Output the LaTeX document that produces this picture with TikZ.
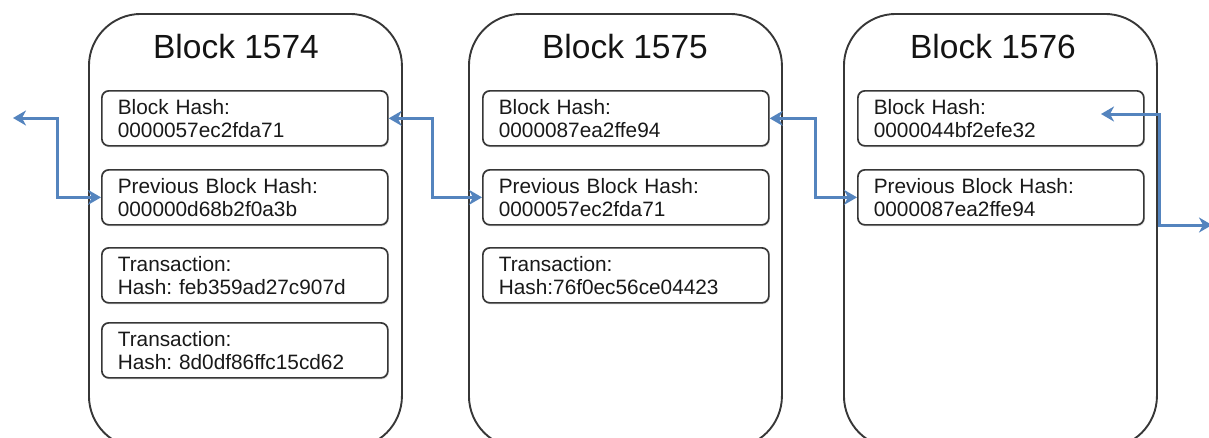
\documentclass[tikz,border=0pt]{standalone}
\usepackage{fontspec}
\setmainfont{Liberation Sans}
\usetikzlibrary{arrows.meta,shadows}
\definecolor{linkblue}{RGB}{84,132,190}
\definecolor{boxgray}{RGB}{55,55,55}
\tikzset{
  outerbox/.style={draw=boxgray, line width=1.9pt, rounded corners=52pt,
    minimum width=313pt, minimum height=434pt, anchor=north west, inner sep=0pt},
  title/.style={anchor=base, inner sep=0pt, font=\fontsize{33.5}{40}\selectfont, text=black!92},
  field/.style={draw=boxgray, line width=1.7pt, rounded corners=7pt, fill=white,
    anchor=north west, text width=254pt, inner xsep=16pt, inner ysep=0pt,
    minimum height=55pt, align=left, font=\fontsize{20.8}{23}\selectfont\frenchspacing, text=black!90,
    drop shadow={opacity=0.22, shadow xshift=1pt, shadow yshift=-1.5pt}},
  tip/.style={},
  link/.style={draw=linkblue, line width=3pt, {Stealth[length=13pt,width=15pt,inset=4pt]}-{Stealth[length=13pt,width=15pt,inset=4pt]}},
}
\begin{document}
\begin{tikzpicture}[x=1pt,y=1pt]
\useasboundingbox (0,0) rectangle (1209,-437);
% outer blocks
\node[outerbox] (b1) at (88,-13) {};
\node[outerbox] (b2) at (468,-13) {};
\node[outerbox] (b3) at (843,-13) {};
% titles
\node[title] (t1) at (236,-58) {Block 1574};
\node[title] (t2) at (625,-58) {Block 1575};
\node[title] (t3) at (993,-58) {Block 1576};
% block 1574 fields
\node[field] (h1) at (101,-90) {Block Hash:\\0000057ec2fda71};
\node[field] (p1) at (101,-169) {Previous Block Hash:\\000000d68b2f0a3b};
\node[field] (x1) at (101,-247) {Transaction:\\Hash: feb359ad27c907d};
\node[field] (y1) at (101,-322) {Transaction:\\Hash: 8d0df86ffc15cd62};
% block 1575 fields
\node[field] (h2) at (482,-90) {Block Hash:\\0000087ea2ffe94};
\node[field] (p2) at (482,-169) {Previous Block Hash:\\0000057ec2fda71};
\node[field] (x2) at (482,-247) {Transaction:\\Hash:76f0ec56ce04423};
% block 1576 fields
\node[field] (h3) at (857,-90) {Block Hash:\\0000044bf2efe32};
\node[field] (p3) at (857,-169) {Previous Block Hash:\\0000087ea2ffe94};
% free ends
\coordinate (L) at (13,-118);
\coordinate (A4) at (1101,-114);
\coordinate (R) at (1212,-225);
% links
\draw[link] (L) -- ++(44,0) |- (p1.west);
\draw[link] (h1.east) -- ++(44,0) |- (p2.west);
\draw[link] (h2.east) -- ++(46,0) |- (p3.west);
\draw[link] (A4) -- ++(58,0) |- (R);
\end{tikzpicture}
\end{document}
